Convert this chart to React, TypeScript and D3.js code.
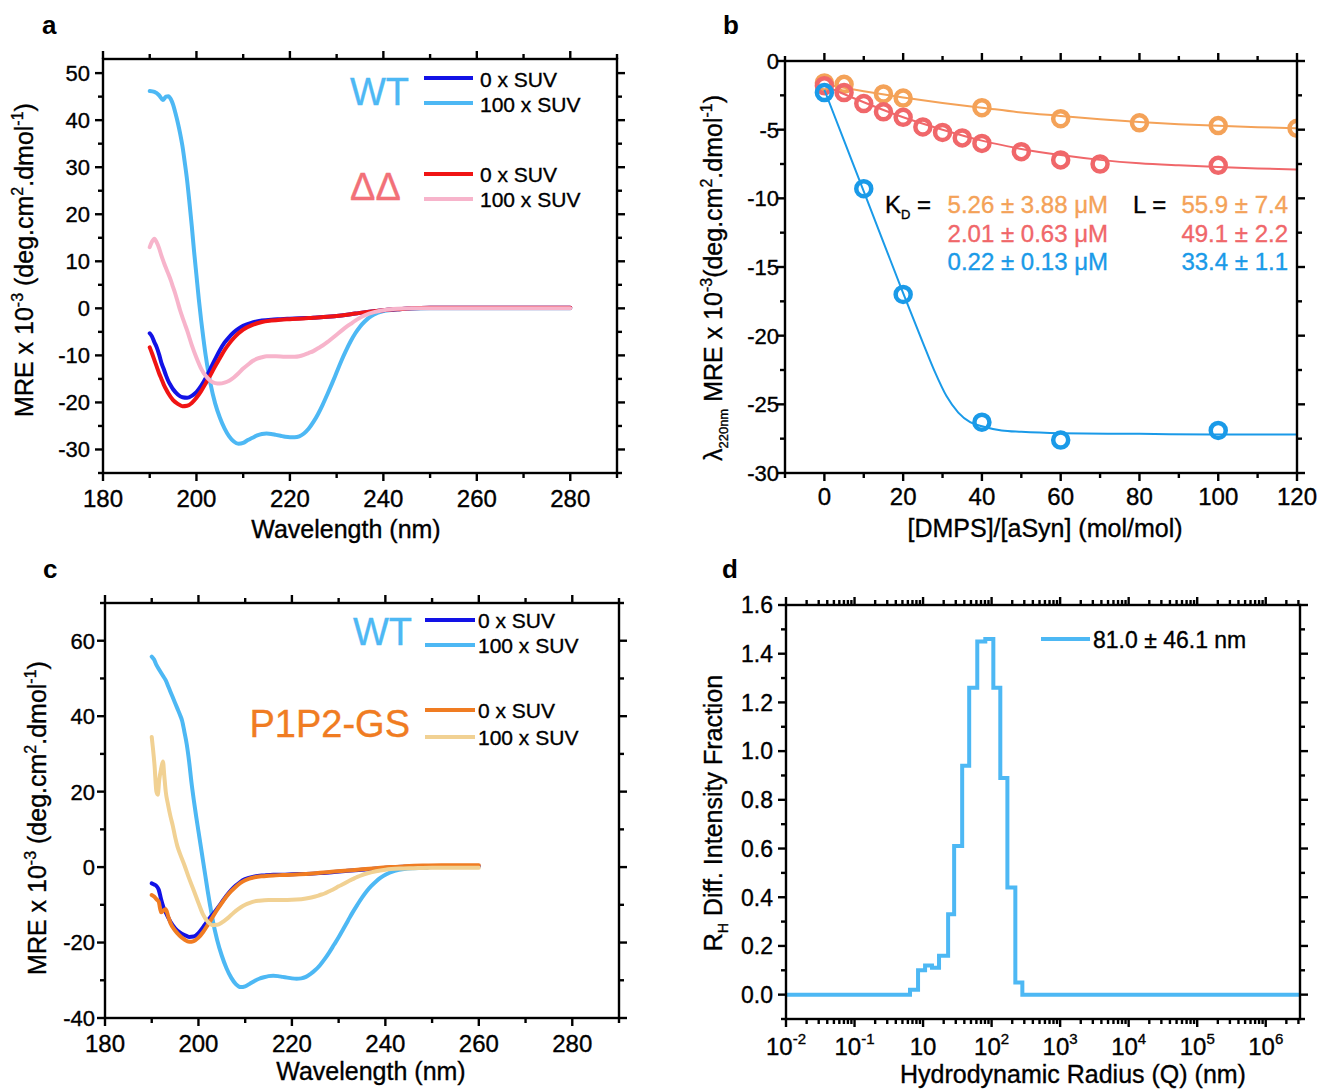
import React from 'react';
import * as d3 from 'd3';

type Pt = [number, number];

const FONT = '"Liberation Sans", Arial, Helvetica, sans-serif';

// ---- panel a : CD spectra, WT and ΔΔ (wavelength nm, MRE x 10^-3)
const wtBufferA: Pt[] = [[190,-5.3],[190.5,-6],[191,-7.2],[191.5,-8.3],[192,-9.8],[192.5,-11.6],[193,-12.9],[193.5,-14.3],[194,-15.5],[194.5,-16.4],[195,-17.2],[196,-18.3],[197,-18.9],[198,-19.0],[199,-18.6],[200,-17.8],[201,-16.5],[202,-14.8],[203,-12.8],[204,-10.8],[205,-8.9],[206,-7.3],[207,-6.1],[208,-5.1],[209,-4.3],[210,-3.7],[212,-3.0],[214,-2.6],[216,-2.4],[218,-2.3],[220,-2.2],[222,-2.1],[225,-2.0],[228,-1.8],[231,-1.5],[234,-1.1],[237,-0.7],[240,-0.4],[243,-0.2],[246,0],[250,0.1],[260,0.1],[270,0.1],[280,0.1]];
const wtSuvA: Pt[] = [[190,46.2],[191,46],[192,45.3],[192.8,44.3],[193.5,45.0],[194,45.1],[194.5,44.5],[195,43.3],[195.5,41.5],[196,39.5],[196.5,37.2],[197,34.5],[197.5,31],[198,27.2],[198.5,22.5],[199,17.5],[199.5,12],[200,7],[200.5,2],[201,-2.5],[201.5,-6.5],[202,-10.2],[202.5,-13.3],[203,-16],[204,-20.2],[205,-23.2],[206,-25.5],[207,-27.2],[208,-28.3],[209,-28.8],[210,-28.6],[211,-28.0],[212,-27.5],[213,-27.0],[214,-26.7],[215,-26.6],[216,-26.7],[217,-26.9],[218,-27.1],[219,-27.3],[220,-27.4],[221,-27.4],[222,-27.2],[223,-26.6],[224,-25.6],[225,-24.2],[226,-22.5],[227,-20.5],[228,-18.3],[229,-16.0],[230,-13.6],[231,-11.2],[232,-9.0],[233,-7.0],[234,-5.3],[235,-3.9],[236,-2.8],[237,-1.9],[238,-1.3],[240,-0.6],[242,-0.3],[245,-0.1],[250,0],[260,0],[270,0],[280,0]];
const ddBufferA: Pt[] = [[190,-8.3],[190.5,-9.6],[191,-11],[191.5,-12.4],[192,-13.8],[192.5,-15],[193,-16.2],[193.5,-17.2],[194,-18.1],[195,-19.5],[196,-20.3],[197,-20.8],[198,-20.7],[199,-20.1],[200,-19.0],[201,-17.6],[202,-15.9],[203,-14.2],[204,-12.3],[205,-10.6],[206,-8.9],[207,-7.5],[208,-6.3],[209,-5.3],[210,-4.5],[212,-3.5],[214,-2.9],[216,-2.6],[218,-2.4],[220,-2.3],[222,-2.2],[225,-2.0],[228,-1.8],[231,-1.5],[234,-1.1],[237,-0.7],[240,-0.4],[243,-0.2],[246,0],[250,0.1],[260,0.1],[270,0.1],[280,0.1]];
const ddSuvA: Pt[] = [[190,13],[190.5,14.2],[191,14.8],[191.5,14.0],[192,12.8],[192.5,11.2],[193,9.8],[193.5,8.5],[194,7.3],[194.5,6],[195,4.5],[195.5,3],[196,1.3],[196.5,-0.4],[197,-1.9],[197.5,-3.3],[198,-4.7],[199,-7.8],[200,-10.5],[201,-12.8],[202,-14.4],[203,-15.4],[204,-15.9],[205,-16.0],[206,-15.8],[207,-15.4],[208,-14.7],[209,-13.8],[210,-12.8],[211,-12.0],[212,-11.2],[213,-10.7],[214,-10.4],[215,-10.2],[217,-10.2],[219,-10.3],[221,-10.3],[222,-10.2],[223,-9.9],[224,-9.5],[225,-9.1],[226,-8.5],[227,-7.9],[228,-7.2],[229,-6.4],[230,-5.6],[231,-4.8],[232,-4.0],[233,-3.3],[234,-2.6],[235,-2.0],[236,-1.5],[238,-0.8],[240,-0.4],[243,-0.1],[246,0],[250,0],[260,0],[270,0],[280,0]];

// ---- panel c : CD spectra, WT and P1P2-GS
const wtBufferC: Pt[] = [[190,-4.3],[190.5,-4.6],[191,-5.0],[191.5,-6.0],[192,-8.5],[192.5,-10.6],[193,-12],[193.5,-13.3],[194,-14.5],[195,-16.2],[196,-17.3],[197,-18.0],[198,-18.5],[199,-18.4],[200,-17.5],[201,-15.9],[202,-14.2],[203,-12.6],[204,-11.0],[205,-9.3],[206,-7.6],[207,-6.1],[208,-4.9],[209,-3.9],[210,-3.2],[212,-2.5],[214,-2.2],[216,-2.0],[218,-2.0],[220,-1.9],[223,-1.8],[226,-1.6],[229,-1.3],[232,-1.0],[235,-0.7],[238,-0.4],[241,-0.1],[244,0.1],[248,0.2],[252,0.2],[256,0.2],[260,0.2]];
const wtSuvC: Pt[] = [[190,55.8],[190.5,55],[191,53.6],[191.5,52.5],[192,51.5],[192.5,50.5],[193,49.5],[193.5,48],[194,46.5],[194.5,45],[195,43.5],[195.5,42],[196,40.5],[196.5,38.8],[197,35.8],[197.5,32.5],[198,28],[198.5,22.5],[199,17.8],[199.5,13.5],[200,9.5],[200.5,5.5],[201,1.5],[201.5,-2.5],[202,-6.5],[202.5,-10.2],[203,-13.7],[204,-19.3],[205,-23.5],[206,-26.8],[207,-29.3],[208,-31.0],[209,-31.8],[210,-31.6],[211,-30.9],[212,-30.2],[213,-29.6],[214,-29.2],[215,-28.9],[216,-28.8],[217,-28.9],[218,-29.1],[219,-29.3],[220,-29.5],[221,-29.6],[222,-29.5],[223,-29.1],[224,-28.3],[225,-27.3],[226,-26.0],[227,-24.4],[228,-22.6],[229,-20.6],[230,-18.6],[231,-16.4],[232,-14.2],[233,-12.0],[234,-10.0],[235,-8.1],[236,-6.4],[237,-5.0],[238,-3.8],[239,-2.8],[240,-2.0],[242,-1.0],[244,-0.5],[246,-0.3],[249,-0.2]];
const pgBufferC: Pt[] = [[190,-7.4],[190.5,-7.8],[191,-8.5],[191.5,-9.2],[192,-12.0],[192.5,-11.5],[193,-11.2],[193.5,-13.0],[194,-14.8],[195,-16.8],[196,-18.2],[197,-19.2],[198,-19.8],[199,-19.6],[200,-18.7],[201,-17.2],[202,-15.3],[203,-13.3],[204,-11.3],[205,-9.5],[206,-7.8],[207,-6.4],[208,-5.2],[209,-4.2],[210,-3.5],[212,-2.7],[214,-2.4],[216,-2.2],[218,-2.1],[220,-2.0],[223,-1.8],[226,-1.5],[229,-1.2],[232,-0.9],[235,-0.6],[238,-0.3],[241,0],[244,0.2],[248,0.4],[252,0.5],[256,0.5],[260,0.5]];
const pgSuvC: Pt[] = [[190,34.5],[190.3,31],[190.6,27],[191,20],[191.3,19.2],[191.6,23],[192,26],[192.4,28],[192.7,24],[193,20],[193.5,16.5],[194,13.5],[194.5,11],[195,8],[195.5,5.5],[196,3.7],[197,0.5],[198,-3.0],[199,-6.2],[200,-9.5],[201,-12.6],[202,-14.5],[203,-15.4],[204,-15.3],[205,-14.7],[206,-13.8],[207,-12.7],[208,-11.6],[209,-10.7],[210,-10.0],[211,-9.5],[212,-9.1],[213,-8.9],[215,-8.7],[217,-8.7],[219,-8.7],[221,-8.6],[223,-8.3],[225,-7.8],[226,-7.4],[227,-7.0],[228,-6.4],[229,-5.8],[230,-5.1],[231,-4.5],[232,-3.8],[233,-3.2],[234,-2.6],[235,-2.1],[236,-1.7],[238,-1.1],[240,-0.7],[243,-0.4],[246,-0.3],[250,-0.2],[255,-0.2],[260,-0.2]];

// ---- panel b : titration at 220 nm
const ratioOrange = [0, 5, 15, 20, 40, 60, 80, 100, 120];
const mreOrange = [-1.6, -1.7, -2.4, -2.7, -3.4, -4.2, -4.5, -4.7, -4.9];
const ratioRed = [0, 5, 10, 15, 20, 25, 30, 35, 40, 50, 60, 70, 100];
const mreRed = [-1.8, -2.3, -3.1, -3.7, -4.1, -4.8, -5.2, -5.6, -6.0, -6.6, -7.2, -7.5, -7.6];
const ratioBlue = [0, 10, 20, 40, 60, 100];
const mreBlue = [-2.3, -9.3, -17.0, -26.3, -27.6, -26.9];

const fitRatio = [0, 10, 20, 30, 40, 50, 60, 70, 80, 90, 100, 110, 120];
const fitOrange = [-1.7, -2.2, -2.65, -3.05, -3.4, -3.75, -4.0, -4.25, -4.45, -4.6, -4.72, -4.82, -4.9];
const fitRed = [-1.8, -3.0, -4.1, -5.0, -5.8, -6.4, -6.85, -7.2, -7.45, -7.6, -7.72, -7.82, -7.9];
const fitBlueRatio = [0, 5, 10, 15, 20, 25, 28, 31, 34, 37, 40, 45, 50, 60, 80, 100, 120];
const fitBlue = [-2.1, -5.8, -9.5, -13.2, -16.9, -20.5, -22.6, -24.4, -25.6, -26.3, -26.6, -26.9, -27.0, -27.1, -27.15, -27.2, -27.2];

const kdLines = ['5.26 ± 3.88 μM', '2.01 ± 0.63 μM', '0.22 ± 0.13 μM'];
const lLines = ['55.9 ± 7.4', '49.1 ± 2.2', '33.4 ± 1.1'];

// ---- panel d : DLS size distribution (bin edges in nm, fraction)
const dlsEdges = [6.45, 8.45, 10.7, 13.5, 17.1, 23.2, 28.4, 37.2, 47.1, 61.8, 80.9, 106, 134, 170, 222, 281];
const dlsFraction = [0.02, 0.10, 0.12, 0.11, 0.16, 0.33, 0.61, 0.94, 1.26, 1.45, 1.46, 1.26, 0.89, 0.44, 0.05];
const dlsTickValues = [0.1, 1, 10, 100, 1e3, 1e4, 1e5, 1e6];
const dlsTickExp = ['-2', '-1', '', '2', '3', '4', '5', '6'];

const C = {
  wt0: '#1212e6',
  wt100: '#4db8f4',
  dd0: '#f01414',
  dd100: '#f7b4cb',
  pg0: '#f07c22',
  pg100: '#f1d193',
  ddText: '#f27078',
  bOrange: '#f4a258',
  bRed: '#f0676a',
  bBlue: '#1a9ae8',
};

const range = (a: number, b: number, s: number) => d3.range(a, b + s / 2, s);

// thin outline so the text reads as heavy as in the scanned figure
const heavy = { stroke: 'currentColor', strokeWidth: 0.35 } as const;

type FrameProps = {
  x: any; y: any; box: [number, number, number, number];
  xMajor: number[]; xMinor: number[]; yMajor: number[]; yMinor: number[];
  xText: (v: number, i: number) => React.ReactNode; yText: (v: number) => string;
  xLabelY: number; yLabelX: number; xFont: number; yFont: number;
};

function Frame(p: FrameProps) {
  const [l, r, t, b] = p.box;
  const M = 8, m = 5;
  return (
    <g stroke="#000" strokeWidth={2.4}>
      <rect x={l} y={t} width={r - l} height={b - t} fill="none" />
      {p.xMajor.map((v, i) => (
        <g key={'xM' + i}>
          <line x1={p.x(v)} x2={p.x(v)} y1={b} y2={b + M} />
          <line x1={p.x(v)} x2={p.x(v)} y1={t} y2={t - M} />
        </g>
      ))}
      {p.xMinor.map((v, i) => (
        <g key={'xm' + i}>
          <line x1={p.x(v)} x2={p.x(v)} y1={b} y2={b + m} />
          <line x1={p.x(v)} x2={p.x(v)} y1={t} y2={t - m} />
        </g>
      ))}
      {p.yMajor.map((v, i) => (
        <g key={'yM' + i}>
          <line x1={l} x2={l - M} y1={p.y(v)} y2={p.y(v)} />
          <line x1={r} x2={r + M} y1={p.y(v)} y2={p.y(v)} />
        </g>
      ))}
      {p.yMinor.map((v, i) => (
        <g key={'ym' + i}>
          <line x1={l} x2={l - m} y1={p.y(v)} y2={p.y(v)} />
          <line x1={r} x2={r + m} y1={p.y(v)} y2={p.y(v)} />
        </g>
      ))}
      <g stroke="#000" strokeWidth={0.35} fill="#000" fontFamily={FONT}>
        {p.xMajor.map((v, i) => (
          <text key={'xl' + i} x={p.x(v)} y={p.xLabelY} fontSize={p.xFont} textAnchor="middle">
            {p.xText(v, i)}
          </text>
        ))}
        {p.yMajor.map((v, i) => (
          <text key={'yl' + i} x={p.yLabelX} y={p.y(v)} dy="0.36em" fontSize={p.yFont} textAnchor="end">
            {p.yText(v)}
          </text>
        ))}
      </g>
    </g>
  );
}

const mreTitle = (space: boolean) => (
  <>
    MRE x 10<tspan dy={-10} fontSize={16}>-3</tspan>
    <tspan dy={10}>{space ? ' (deg.cm' : '(deg.cm'}</tspan>
    <tspan dy={-10} fontSize={16}>2</tspan>
    <tspan dy={10}>.dmol</tspan>
    <tspan dy={-10} fontSize={16}>-1</tspan>
    <tspan dy={10}>)</tspan>
  </>
);

function CdLegend({ x0, x1, tx, rows, label, labelColor, labelX, labelY, anchor }: any) {
  return (
    <g fontFamily={FONT}>
      <text x={labelX} y={labelY} fontSize={38} fill={labelColor} color={labelColor} textAnchor={anchor} style={heavy}>{label}</text>
      {rows.map((r: any, i: number) => (
        <g key={i}>
          <line x1={x0} x2={x1} y1={r.ly} y2={r.ly} stroke={r.color} strokeWidth={4} />
          <text x={tx} y={r.ty} fontSize={21} fill="#000" color="#000" style={heavy}>{r.text}</text>
        </g>
      ))}
    </g>
  );
}

function CdPanel({ box, yDomain, yMajor, yMinor, series, xLabelY, yLabelX }: any) {
  const [l, r, t, b] = box;
  const x = d3.scaleLinear().domain([180, 290]).range([l, r]);
  const y = d3.scaleLinear().domain(yDomain).range([b, t]);
  const line = d3.line<Pt>().x(d => x(d[0])).y(d => y(d[1])).curve(d3.curveMonotoneX);
  return (
    <g>
      {series.map((s: any, i: number) => (
        <path key={i} d={line(s.data) || ''} fill="none" stroke={s.color} strokeWidth={4} strokeLinejoin="round" strokeLinecap="round" />
      ))}
      <Frame x={x} y={y} box={box}
        xMajor={range(180, 280, 20)} xMinor={range(190, 290, 20)}
        yMajor={yMajor} yMinor={yMinor}
        xText={v => String(v)} yText={v => String(v)}
        xLabelY={xLabelY} yLabelX={yLabelX} xFont={24} yFont={22} />
    </g>
  );
}

function TitrationPanel() {
  const box: [number, number, number, number] = [785, 1297, 61, 473];
  const x = d3.scaleLinear().domain([-10, 120]).range([box[0], box[1]]);
  const y = d3.scaleLinear().domain([-30, 0]).range([box[3], box[2]]);
  const line = d3.line<number>().curve(d3.curveMonotoneX);
  const mk = (xs: number[], ys: number[]) => line(xs.map((v, i) => [x(v), y(ys[i])]) as any) || '';
  const groups = [
    { xs: ratioOrange, ys: mreOrange, fx: fitRatio, fy: fitOrange, c: C.bOrange },
    { xs: ratioRed, ys: mreRed, fx: fitRatio, fy: fitRed, c: C.bRed },
    { xs: ratioBlue, ys: mreBlue, fx: fitBlueRatio, fy: fitBlue, c: C.bBlue },
  ];
  const colors = [C.bOrange, C.bRed, C.bBlue];
  const rowY = [213, 242, 270];
  return (
    <g>
      <defs>
        <clipPath id="clipB"><rect x={box[0]} y={box[2]} width={box[1] - box[0]} height={box[3] - box[2]} /></clipPath>
      </defs>
      <g clipPath="url(#clipB)">
        {groups.map((g, i) => (
          <g key={i}>
            <path d={mk(g.fx, g.fy)} fill="none" stroke={g.c} strokeWidth={2} />
            {g.xs.map((v, j) => (
              <circle key={j} cx={x(v)} cy={y(g.ys[j])} r={7.5} fill="none" stroke={g.c} strokeWidth={4.5} />
            ))}
          </g>
        ))}
      </g>
      <Frame x={x} y={y} box={box}
        xMajor={range(0, 120, 20)} xMinor={range(-10, 110, 20)}
        yMajor={range(-30, 0, 5)} yMinor={range(-27.5, -2.5, 5)}
        xText={v => String(v)} yText={v => String(v)}
        xLabelY={505} yLabelX={779} xFont={24} yFont={22} />
      <g fontFamily={FONT} fontSize={24}>
        <text x={885} y={rowY[0]} fill="#000" color="#000" style={heavy}>K<tspan dy={6} fontSize={13}>D</tspan><tspan dy={-6}> =</tspan></text>
        {kdLines.map((s, i) => (
          <text key={'k' + i} x={1108} y={rowY[i]} fill={colors[i]} color={colors[i]} style={heavy} textAnchor="end">{s}</text>
        ))}
        <text x={1133} y={rowY[0]} fill="#000" color="#000" style={heavy}>L =</text>
        {lLines.map((s, i) => (
          <text key={'l' + i} x={1288} y={rowY[i]} fill={colors[i]} color={colors[i]} style={heavy} textAnchor="end">{s}</text>
        ))}
      </g>
    </g>
  );
}

function DlsPanel() {
  const box: [number, number, number, number] = [786, 1300, 605, 1019];
  const x = d3.scaleLog().domain([0.1, Math.pow(10, 6.5)]).range([box[0], box[1]]);
  const y = d3.scaleLinear().domain([-0.1, 1.6]).range([box[3], box[2]]);
  const pts: Pt[] = [[0.1, 0], ...dlsEdges.map((e, i) => [e, i < dlsFraction.length ? dlsFraction[i] : 0] as Pt), [Math.pow(10, 6.5), 0]];
  const line = d3.line<Pt>().x(d => x(d[0])).y(d => y(d[1])).curve(d3.curveStepAfter);
  const minor: number[] = [];
  for (let e = -1; e <= 6; e++) for (let k = 2; k <= 9; k++) {
    const v = k * Math.pow(10, e);
    if (v < Math.pow(10, 6.5)) minor.push(v);
  }
  return (
    <g>
      <path d={line(pts) || ''} fill="none" stroke={C.wt100} strokeWidth={4} />
      <Frame x={x} y={y} box={box}
        xMajor={dlsTickValues} xMinor={minor}
        yMajor={range(0, 1.6, 0.2)} yMinor={range(-0.1, 1.5, 0.2)}
        xText={(v, i) => (
          <>10{dlsTickExp[i] ? <tspan dy={-11} fontSize={15}>{dlsTickExp[i]}</tspan> : null}</>
        )}
        yText={v => v.toFixed(1)}
        xLabelY={1055} yLabelX={773} xFont={24} yFont={23} />
      <line x1={1041} x2={1090} y1={639} y2={639} stroke={C.wt100} strokeWidth={4} />
      <text x={1093} y={648} fontFamily={FONT} fontSize={23} color="#000" style={heavy}>81.0 ± 46.1 nm</text>
    </g>
  );
}

export default function App() {
  return (
    <svg width={1319} height={1091} style={{ position: 'absolute', left: 0, top: 0, background: '#fff' }}
      fontFamily={FONT}>
      <rect width={1319} height={1091} fill="#fff" />
      <g fontWeight="bold" fontSize={26}>
        <text x={42} y={34}>a</text>
        <text x={723} y={34}>b</text>
        <text x={43} y={578}>c</text>
        <text x={722} y={578}>d</text>
      </g>

      <CdPanel box={[103, 617, 59, 473]} yDomain={[-35, 53]}
        yMajor={range(-30, 50, 10)} yMinor={range(-35, 45, 10)}
        series={[
          { data: wtSuvA, color: C.wt100 },
          { data: wtBufferA, color: C.wt0 },
          { data: ddBufferA, color: C.dd0 },
          { data: ddSuvA, color: C.dd100 },
        ]}
        xLabelY={507} yLabelX={90} />
      <CdLegend x0={424} x1={473} tx={480} label="WT" labelColor={C.wt100} labelX={350} labelY={105} anchor="start"
        rows={[
          { ly: 78, ty: 87, color: C.wt0, text: '0 x SUV' },
          { ly: 103, ty: 112, color: C.wt100, text: '100 x SUV' },
        ]} />
      <CdLegend x0={424} x1={473} tx={480} label="ΔΔ" labelColor={C.ddText} labelX={350} labelY={200} anchor="start"
        rows={[
          { ly: 174, ty: 182, color: C.dd0, text: '0 x SUV' },
          { ly: 199, ty: 207, color: C.dd100, text: '100 x SUV' },
        ]} />

      <g color="#000" style={heavy}>
        <text fontSize={25} textAnchor="middle" x={346} y={538}>Wavelength (nm)</text>
        <text fontSize={25} textAnchor="middle" transform="translate(33,260) rotate(-90)">{mreTitle(true)}</text>
      </g>

      <TitrationPanel />
      <g color="#000" style={heavy}>
        <text fontSize={25} textAnchor="middle" x={1045} y={537}>[DMPS]/[aSyn] (mol/mol)</text>
        <text fontSize={25} textAnchor="middle" transform="translate(722,278) rotate(-90)">
          λ<tspan dy={6} fontSize={13}>220nm</tspan><tspan dy={-6}> </tspan>{mreTitle(false)}
        </text>
      </g>

      <CdPanel box={[105, 619, 603, 1018]} yDomain={[-40, 70]}
        yMajor={range(-40, 60, 20)} yMinor={range(-30, 70, 20)}
        series={[
          { data: wtSuvC, color: C.wt100 },
          { data: wtBufferC, color: C.wt0 },
          { data: pgBufferC, color: C.pg0 },
          { data: pgSuvC, color: C.pg100 },
        ]}
        xLabelY={1052} yLabelX={95} />
      <CdLegend x0={425} x1={475} tx={478} label="WT" labelColor={C.wt100} labelX={353} labelY={645} anchor="start"
        rows={[
          { ly: 620, ty: 628, color: C.wt0, text: '0 x SUV' },
          { ly: 645, ty: 653, color: C.wt100, text: '100 x SUV' },
        ]} />
      <CdLegend x0={425} x1={475} tx={478} label="P1P2-GS" labelColor={C.pg0} labelX={410} labelY={737} anchor="end"
        rows={[
          { ly: 710, ty: 718, color: C.pg0, text: '0 x SUV' },
          { ly: 737, ty: 745, color: C.pg100, text: '100 x SUV' },
        ]} />
      <g color="#000" style={heavy}>
        <text fontSize={25} textAnchor="middle" x={371} y={1080}>Wavelength (nm)</text>
        <text fontSize={25} textAnchor="middle" transform="translate(46,818) rotate(-90)">{mreTitle(true)}</text>
      </g>

      <DlsPanel />
      <g color="#000" style={heavy}>
        <text fontSize={25} textAnchor="middle" x={1073} y={1083}>Hydrodynamic Radius (Q) (nm)</text>
        <text fontSize={25} textAnchor="middle" transform="translate(722,813) rotate(-90)">
          R<tspan dy={6} fontSize={14}>H</tspan><tspan dy={-6}> Diff. Intensity Fraction</tspan>
        </text>
      </g>
    </svg>
  );
}
